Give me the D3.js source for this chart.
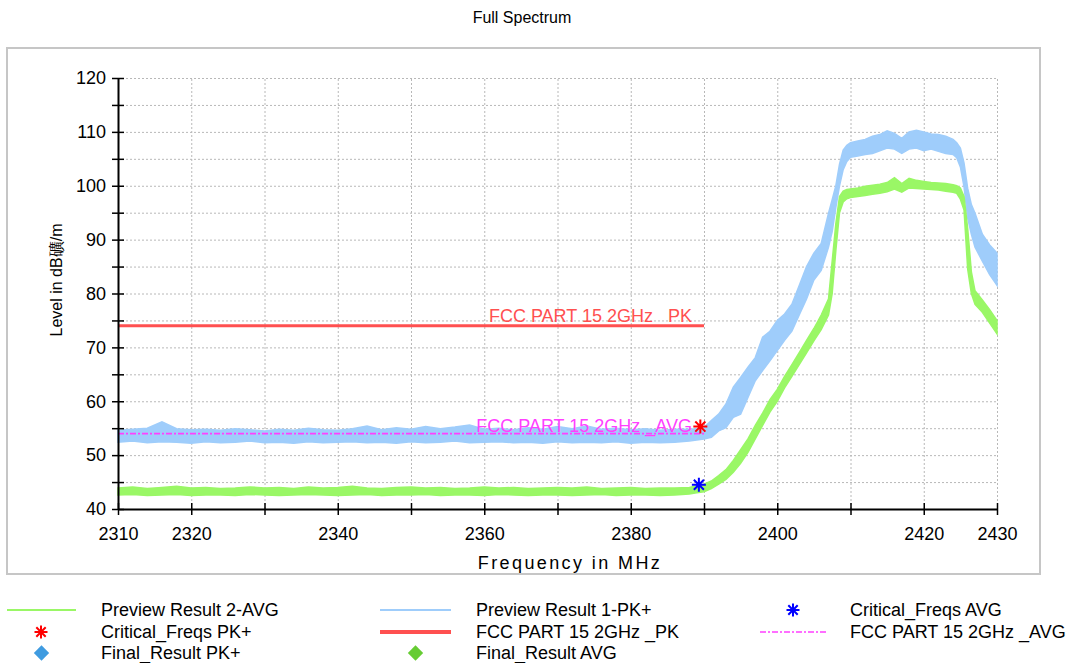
<!DOCTYPE html>
<html><head><meta charset="utf-8">
<script src="https://cdn.jsdelivr.net/npm/d3@7"></script>
<style>
body{margin:0;background:#fff}
svg{display:block;font-family:"Liberation Sans",Arial,sans-serif}
</style>
</head><body><svg id="c" width="1078" height="663"></svg>
<script>
// ---------- data ----------
const chartTitle = "Full Spectrum";
const xTitle = "Frequency in MHz";
const yTitle = "Level in dB礦/m";

const xTickValues = [2310,2320,2330,2340,2350,2360,2370,2380,2390,2400,2410,2420,2430];
const xTickLabels = ["2310","2320","","2340","","2360","","2380","","2400","","2420","2430"];
const yTickValues = [40,45,50,55,60,65,70,75,80,85,90,95,100,105,110,115,120];
const yTickLabels = ["40","","50","","60","","70","","80","","90","","100","","110","","120"];

const freqs = [2310,2312,2314,2316,2318,2320,2322,2324,2326,2328,2330,2332,2334,2336,2338,2340,2342,2344,2346,2348,2350,2352,2354,2356,2358,2360,2362,2364,2366,2368,2370,2372,2374,2376,2378,2380,2382,2384,2386,
2388,2389,2390,2391,2392,2393,2394,2395,2396,2397,2398,2399,2400,2401,2402,2403,2404,2405,2406,2407,
2407.5,2408,2408.5,2409,2409.5,
2410,2411,2412,2413,2414,2415,2416,2417,2418,2419,2420,2421,2422,2423,2424,
2424.5,2425,2425.5,2426,2426.5,
2427,2428,2429,2430];

// Preview Result 1-PK+ (band low / high)
const pkLo = [52.4,52.6,52.3,52.5,52.4,52.2,52.5,52.3,52.4,52.6,52.3,52.4,52.2,52.5,52.3,52.4,52.5,52.3,52.4,52.2,52.5,52.3,52.4,52.6,52.3,52.4,52.5,52.3,52.4,52.2,52.5,52.3,52.4,52.3,52.5,52.2,52.4,52.3,52.4,
52.6,52.8,53.0,53.3,54.5,55.1,57.0,57.6,60.7,63.8,65.7,67.5,69.4,71.3,73.0,76.0,79.0,82.5,84.3,88.6,
91.5,96.0,100.0,103.0,104.5,
105.3,105.5,105.8,106.0,106.5,107.0,106.8,106.0,106.8,107.0,106.5,106.8,106.4,106.0,105.8,
105.2,103.5,99.8,94.0,91.0,
88.6,86.0,83.5,81.5];
const pkHi = [54.6,54.8,55.0,56.2,54.9,54.7,54.8,54.6,54.9,54.7,54.5,54.8,54.6,55.0,54.7,54.6,54.9,55.4,54.7,55.1,54.8,55.3,54.9,55.2,55.6,54.8,55.0,54.7,55.1,54.8,55.3,54.9,55.4,54.8,55.0,54.7,54.9,54.6,54.8,
54.8,54.9,55.1,56.4,57.6,59.5,62.6,64.4,66.3,68.1,71.9,73.0,75.0,76.2,78.0,81.5,85.0,87.5,89.3,94.9,
97.4,100.0,104.0,106.6,107.5,
108.0,108.3,108.6,109.2,109.5,110.2,109.7,108.8,110.0,110.3,110.0,109.6,109.5,109.2,108.6,
108.0,107.0,104.2,99.5,96.5,
94.9,91.0,89.0,87.5];

// Preview Result 2-AVG (band low / high)
const avgLo = [42.6,42.7,42.5,42.6,42.7,42.5,42.6,42.6,42.5,42.7,42.6,42.5,42.6,42.7,42.6,42.5,42.6,42.7,42.5,42.6,42.6,42.7,42.5,42.6,42.6,42.5,42.7,42.6,42.5,42.6,42.6,42.5,42.6,42.7,42.5,42.6,42.6,42.5,42.6,
42.8,43.0,43.2,43.8,44.6,45.5,46.8,48.5,50.5,53.0,55.5,58.0,60.0,62.5,64.6,66.8,69.0,71.2,73.3,76.0,
80.0,88.0,95.0,97.0,97.6,
97.8,98.0,98.2,98.4,98.6,98.9,99.4,98.8,99.6,99.5,99.4,99.3,99.2,99.0,98.8,
98.6,97.5,95.5,84.5,80.0,
78.0,76.5,74.5,72.5];
const avgHi = [43.9,44.1,43.8,44.0,44.2,43.9,44.0,43.8,43.9,44.1,43.9,44.0,43.8,44.1,43.9,44.0,44.2,43.9,43.8,44.0,44.1,43.9,44.0,43.8,43.9,44.1,43.9,44.0,43.8,43.9,44.0,43.9,44.1,43.8,43.9,44.0,43.8,43.9,43.9,
44.0,44.3,44.6,45.2,46.2,47.3,49.0,51.0,53.0,55.5,57.8,60.3,62.2,64.6,66.8,69.0,71.3,73.5,76.0,79.0,
86.0,93.0,98.0,99.0,99.3,
99.4,99.6,99.9,100.1,100.3,100.6,101.5,100.4,101.4,101.0,100.8,100.6,100.5,100.4,100.2,
100.0,99.6,98.0,92.0,84.0,
80.5,78.8,77.0,75.0];

// Limit lines
const limitFreqs = [2310, 2390];
const pkLimit = [74, 74];
const avgLimit = [54, 54];
const pkLimitName = "FCC PART 15 2GHz _PK";
const avgLimitName = "FCC PART 15 2GHz _AVG";

// Critical frequencies
const critPkFreq = [2389.5], critPkLevel = [55.3];
const critAvgFreq = [2389.3], critAvgLevel = [44.5];

const legendLabels = ["Preview Result 2-AVG","Preview Result 1-PK+","Critical_Freqs AVG",
  "Critical_Freqs PK+","FCC PART 15 2GHz _PK","FCC PART 15 2GHz _AVG",
  "Final_Result PK+","Final_Result AVG"];

// ---------- drawing ----------
const C = {pk:"#9fcdfb", avg:"#9af766", red:"#ff5050", mag:"#ff40ff", pkFinal:"#3f9be0", avgFinal:"#66cc33"};
const svg = d3.select("#c");
const x = d3.scaleLinear().domain([2310,2430]).range([118,997]);
const y = d3.scaleLinear().domain([40,120]).range([509,78]);

// frame
svg.append("rect").attr("x",7).attr("y",48).attr("width",1033).attr("height",526)
  .attr("fill","#fff").attr("stroke","#c6c6c6").attr("stroke-width",2);

svg.append("text").attr("x",522).attr("y",23).attr("text-anchor","middle")
  .attr("font-size",16).text(chartTitle);

// grid
const gy = svg.append("g").attr("transform","translate(118,0)")
  .call(d3.axisLeft(y).tickValues(yTickValues).tickSize(-(997-118)).tickFormat(""));
gy.select(".domain").remove();
gy.selectAll("line").attr("stroke","#b8b8b8").attr("stroke-dasharray","2,2");
const gx = svg.append("g").attr("transform","translate(0,509)")
  .call(d3.axisBottom(x).tickValues(xTickValues).tickSize(-(509-78)).tickFormat(""));
gx.select(".domain").remove();
gx.selectAll("line").attr("stroke","#b8b8b8").attr("stroke-dasharray","2,2");

// traces
const pts = freqs.map((f,i)=>({f, pl:pkLo[i], ph:pkHi[i], al:avgLo[i], ah:avgHi[i]}));
const pkArea = d3.area().x(d=>x(d.f)).y0(d=>y(d.pl)).y1(d=>y(d.ph));
const avgArea = d3.area().x(d=>x(d.f)).y0(d=>y(d.al)).y1(d=>y(d.ah));
svg.append("path").datum(pts).attr("d",pkArea).attr("fill",C.pk).attr("stroke",C.pk).attr("stroke-width",1.5);
svg.append("path").datum(pts).attr("d",avgArea).attr("fill",C.avg).attr("stroke",C.avg).attr("stroke-width",1.5);

// limit lines
const lim = limitFreqs.map((f,i)=>({f, pk:pkLimit[i], av:avgLimit[i]}));
svg.append("path").datum(lim).attr("d",d3.line().x(d=>x(d.f)).y(d=>y(d.pk)))
  .attr("stroke",C.red).attr("stroke-width",3).attr("fill","none");
svg.append("path").datum(lim).attr("d",d3.line().x(d=>x(d.f)).y(d=>y(d.av)))
  .attr("stroke",C.mag).attr("stroke-width",1.8).attr("stroke-dasharray","6,2,2,2").attr("fill","none");
svg.append("text").attr("x",x(limitFreqs[1])-12).attr("y",y(pkLimit[1])-4).attr("text-anchor","end")
  .attr("font-size",18).attr("fill",C.red).text(pkLimitName);
svg.append("text").attr("x",x(limitFreqs[1])-12).attr("y",y(avgLimit[1])-2).attr("text-anchor","end")
  .attr("font-size",18).attr("fill",C.mag).text(avgLimitName);

// asterisk helper
function asterisk(g, cx, cy, r, color){
  const p = `M${cx-r},${cy}L${cx+r},${cy}M${cx},${cy-r}L${cx},${cy+r}` +
    `M${cx-r*0.72},${cy-r*0.72}L${cx+r*0.72},${cy+r*0.72}M${cx-r*0.72},${cy+r*0.72}L${cx+r*0.72},${cy-r*0.72}`;
  g.append("path").attr("d",p).attr("stroke",color).attr("stroke-width",2).attr("fill","none");
}
critPkFreq.forEach((f,i)=>asterisk(svg, x(f), y(critPkLevel[i]), 7, "#ff0000"));
critAvgFreq.forEach((f,i)=>asterisk(svg, x(f), y(critAvgLevel[i]), 7, "#0000ff"));

// axes
const ay = svg.append("g").attr("transform","translate(118,0)")
  .call(d3.axisLeft(y).tickValues(yTickValues).tickFormat((d,i)=>yTickLabels[i]).tickSizeOuter(0));
ay.select(".domain").attr("stroke","#000").attr("stroke-width",2);
ay.selectAll(".tick line").attr("x1",-6).attr("x2",6).attr("stroke","#000").attr("stroke-width",1.5);
ay.selectAll(".tick text").attr("x",-12).attr("font-size",18).attr("font-family","Liberation Sans, Arial, sans-serif").attr("fill","#000");

const ax = svg.append("g").attr("transform","translate(0,509)")
  .call(d3.axisBottom(x).tickValues(xTickValues).tickFormat((d,i)=>xTickLabels[i]).tickSizeOuter(0));
ax.select(".domain").attr("stroke","#000").attr("stroke-width",2);
ax.selectAll(".tick line").attr("y1",-6).attr("y2",6).attr("stroke","#000").attr("stroke-width",1.5);
ax.selectAll(".tick text").attr("y",18).attr("font-size",18).attr("font-family","Liberation Sans, Arial, sans-serif").attr("fill","#000");

// axis titles
svg.append("text").attr("x",570).attr("y",569).attr("text-anchor","middle")
  .attr("font-size",18).attr("letter-spacing",2.4).text(xTitle);
svg.append("text").attr("transform","translate(62,280) rotate(-90)").attr("text-anchor","middle")
  .attr("font-size",16).text(yTitle);

// legend
const L = svg.append("g").attr("font-size",18);
const colText = [101, 476, 850];
const rowY = [610, 632, 653];
const items = [
  {c:0,r:0,t:"line",col:C.avg,w:2},
  {c:1,r:0,t:"line",col:C.pk,w:2},
  {c:2,r:0,t:"ast",col:"#0000ff"},
  {c:0,r:1,t:"ast",col:"#ff0000"},
  {c:1,r:1,t:"line",col:C.red,w:4},
  {c:2,r:1,t:"dash",col:C.mag,w:1.4},
  {c:0,r:2,t:"dia",col:C.pkFinal},
  {c:1,r:2,t:"dia",col:C.avgFinal}
];
const symX = [[7,76],[380,451],[760,827]];
items.forEach((it,i)=>{
  const yy = rowY[it.r];
  const [x0,x1] = symX[it.c];
  const xm = (x0+x1)/2;
  if(it.t==="line"||it.t==="dash"){
    const ln = L.append("line").attr("x1",x0).attr("x2",x1).attr("y1",yy).attr("y2",yy)
      .attr("stroke",it.col).attr("stroke-width",it.w);
    if(it.t==="dash") ln.attr("stroke-dasharray","6,2,2,2");
  } else if(it.t==="ast"){
    asterisk(L, xm-0.5, yy, 6.5, it.col);
  } else {
    L.append("path").attr("d",d3.symbol(d3.symbolDiamond2 || d3.symbolSquare,150)())
      .attr("transform",`translate(${xm},${yy}) rotate(${d3.symbolDiamond2?0:45})`).attr("fill",it.col);
  }
  L.append("text").attr("x",colText[it.c]).attr("y",yy+6).text(legendLabels[i]);
});
</script>
</body></html>
